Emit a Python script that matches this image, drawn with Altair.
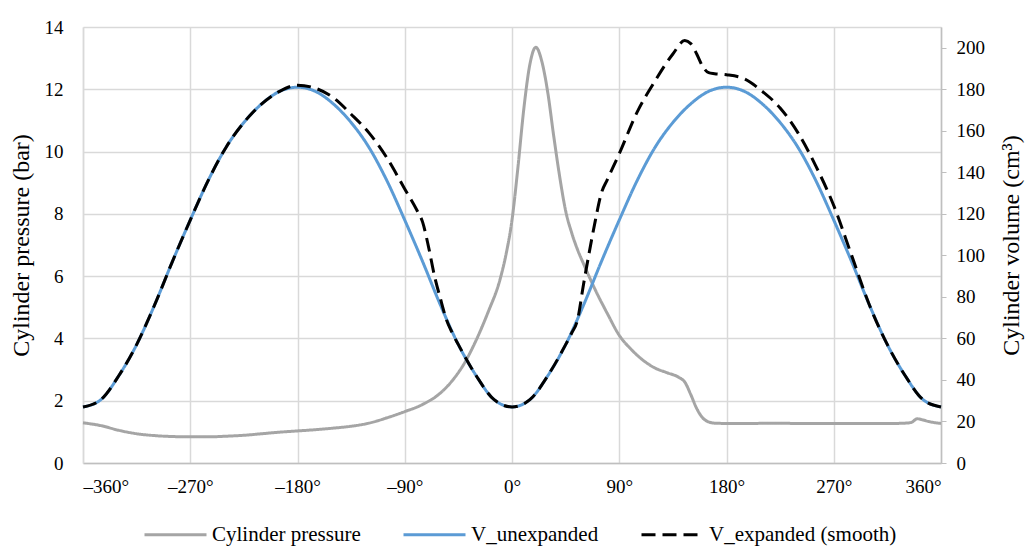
import altair as alt
import pandas as pd

FONT = "Liberation Serif"

# ---- Cylinder pressure (bar) ----
p_deg = [-360, -345, -330, -315, -300, -285, -270, -255, -240, -225, -210, -195,
         -180, -165, -150, -135, -120, -105, -90, -75, -60, -50, -40, -30, -20,
         -10, -5, 0, 5, 10, 15, 20, 25, 30, 35, 40, 45, 50, 55, 60, 70, 80, 90,
         100, 110, 120, 130, 140, 145, 150, 155, 160, 165, 170, 180, 200, 220,
         240, 260, 280, 300, 320, 330, 335, 340, 345, 350, 360]
p_val = [1.29, 1.20, 1.05, 0.94, 0.88, 0.85, 0.84, 0.84, 0.86, 0.89, 0.94, 0.99,
         1.03, 1.07, 1.12, 1.18, 1.28, 1.45, 1.65, 1.88, 2.25, 2.65, 3.20, 3.95, 4.85,
         5.90, 6.70, 7.80, 9.50, 11.40, 12.80, 13.35, 12.90, 11.90, 10.50, 9.20, 8.10,
         7.40, 6.85, 6.40, 5.55, 4.80, 4.10, 3.65, 3.30, 3.05, 2.90, 2.75, 2.60, 2.20,
         1.75, 1.45, 1.32, 1.28, 1.27, 1.27, 1.28, 1.27, 1.27, 1.27, 1.27, 1.27, 1.28,
         1.30, 1.42, 1.38, 1.33, 1.27]

# ---- V_unexpanded (cm3) ----
vu_deg = list(range(-360, 361, 15))
vu_val = [27, 30.5, 42, 57, 76, 97, 117, 136, 152, 164, 173, 179, 181,
          179, 173, 164, 152, 136, 117, 97, 76, 57, 42, 30.5, 27,
          30.5, 42, 57, 76, 97, 117, 136, 152, 164, 173, 179, 181,
          179, 173, 164, 152, 136, 117, 97, 76, 57, 42, 30.5, 27]

# ---- V_expanded (smooth) (cm3) ----
ve_deg = [-360, -345, -330, -315, -300, -285, -270, -255, -240, -225, -210, -195,
          -180, -165, -150, -135, -120, -105, -90, -80, -75, -70, -65, -60, -55,
          -50, -45, -30, -15, 0, 15, 30, 45, 50, 55, 60, 65, 70, 75, 80, 90, 105,
          120, 135, 145, 150, 155, 160, 165, 170, 180, 195, 210, 225, 240, 255,
          270, 285, 300, 315, 330, 345, 360]
ve_val = [27, 30.5, 42, 57, 76, 97, 117, 136, 152, 164, 173, 179,
          182, 180.5, 176, 168, 159, 147, 132, 122, 116, 104, 90, 79, 69,
          62.5, 57, 42, 30.5, 27, 30.5, 42, 57, 62.5, 69, 86, 102, 117, 130, 136.5, 149, 169,
          184, 197, 203.5, 202, 197, 191, 188, 187.5, 187, 185, 179, 171, 159, 143,
          124, 100, 76, 57, 42, 30.5, 27]

series_names = ["Cylinder pressure", "V_unexpanded", "V_expanded (smooth)"]
series_colors = ["#a5a5a5", "#5b9bd5", "#000000"]
series_dash = [[1, 0], [1, 0], [14, 7]]

df_p = pd.DataFrame({"deg": p_deg, "val": p_val, "series": series_names[0]})
df_u = pd.DataFrame({"deg": vu_deg, "val": vu_val, "series": series_names[1]})
df_e = pd.DataFrame({"deg": ve_deg, "val": ve_val, "series": series_names[2]})

x_ticks = [-360, -270, -180, -90, 0, 90, 180, 270, 360]

x_enc = alt.X("deg:Q",
              scale=alt.Scale(domain=[-360, 360], nice=False),
              axis=alt.Axis(values=x_ticks, title=None, grid=True, ticks=False,
                            labelExpr="(datum.value < 0 ? '–' + abs(datum.value) : datum.value) + '°'",
                            labelPadding=14, domainColor="#bfbfbf", domainWidth=1.5))

color_enc = alt.Color("series:N",
                      scale=alt.Scale(domain=series_names, range=series_colors),
                      legend=alt.Legend(title=None))
dash_enc = alt.StrokeDash("series:N",
                          scale=alt.Scale(domain=series_names, range=series_dash),
                          legend=alt.Legend(title=None))

left_axis = alt.Axis(values=list(range(0, 15, 2)), title="Cylinder pressure (bar)",
                     grid=True, ticks=False, labelPadding=20, titlePadding=11,
                     domainColor="#d9d9d9", domainWidth=1.5)
right_axis = alt.Axis(values=list(range(0, 201, 20)), title="Cylinder volume (cm³)",
                      orient="right", grid=False, ticks=True, tickSize=5,
                      tickColor="#bfbfbf", domainColor="#bfbfbf", domainWidth=1.5,
                      labelPadding=10, titleAngle=270, titlePadding=39)

vol_scale = alt.Scale(domain=[0, 210], nice=False)

pressure = alt.Chart(df_p).mark_line(strokeWidth=3, interpolate="monotone").encode(
    x=x_enc,
    y=alt.Y("val:Q", scale=alt.Scale(domain=[0, 14], nice=False), axis=left_axis),
    color=color_enc,
    strokeDash=dash_enc,
)

vu = alt.Chart(df_u).mark_line(strokeWidth=3, interpolate="monotone").encode(
    x=x_enc,
    y=alt.Y("val:Q", scale=vol_scale, axis=right_axis),
    color=color_enc,
    strokeDash=dash_enc,
)
ve = alt.Chart(df_e).mark_line(strokeWidth=3, interpolate="monotone").encode(
    x=x_enc,
    y=alt.Y("val:Q", scale=vol_scale, axis=right_axis),
    color=color_enc,
    strokeDash=dash_enc,
)

volume = alt.layer(vu, ve)

chart = alt.layer(pressure, volume).resolve_scale(y="independent").properties(
    width=858, height=436,
    autosize=alt.AutoSizeParams(type="none"),
    padding={"left": 83, "top": 27, "right": 85, "bottom": 84},
    background="white",
).configure_view(stroke=None).configure_axis(
    labelFont=FONT, labelFontSize=19, labelColor="black",
    titleFont=FONT, titleFontSize=24, titleFontWeight="normal", titleColor="black",
    gridColor="#d9d9d9", gridWidth=1.5,
).configure_legend(
    orient="none", legendX=60, legendY=475, direction="horizontal",
    symbolType="stroke", symbolSize=3844, symbolStrokeWidth=3,
    labelFont=FONT, labelFontSize=21, labelColor="black", labelLimit=400,
    labelOffset=4, columnPadding=36, padding=0,
)

chart.save("out.html", embed_options={"renderer": "svg", "actions": False})
